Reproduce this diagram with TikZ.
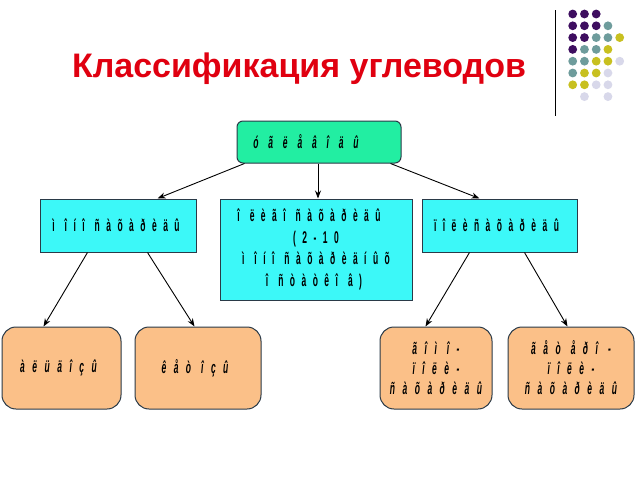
\documentclass[tikz,border=0pt]{standalone}
\usepackage{fontspec}
\setmainfont{Liberation Sans}
\newfontfamily\narA[FakeStretch=0.5,LetterSpace=38]{Liberation Sans}
\newfontfamily\narB[FakeStretch=0.5,LetterSpace=58]{Liberation Sans}
\newfontfamily\narC[FakeStretch=0.5,LetterSpace=44]{Liberation Sans}
\newcommand{\gp}{\hspace{10pt}}
\usetikzlibrary{arrows.meta,calc}
\definecolor{topfill}{HTML}{22EEA2}
\definecolor{midfill}{HTML}{3CF8F8}
\definecolor{botfill}{HTML}{FBC088}
\definecolor{edge}{HTML}{2A3A48}
\definecolor{titlered}{HTML}{E00010}
\definecolor{dpurple}{HTML}{3E0E60}
\definecolor{dteal}{HTML}{6E9C9C}
\definecolor{dyellow}{HTML}{C8C020}
\definecolor{dlav}{HTML}{D8D8EA}
\tikzset{
  boxbase/.style={draw=edge, line width=1pt, align=center, inner sep=0pt},
  topbox/.style={boxbase, fill=topfill, rounded corners=6pt, minimum width=164pt, minimum height=42pt,
    font=\narB\bfseries\itshape\fontsize{17}{21.5}\selectfont},
  midbox/.style={boxbase, fill=midfill, minimum height=53pt,
    font=\narA\bfseries\fontsize{17}{21.5}\selectfont},
  botbox/.style={boxbase, fill=botfill, rounded corners=14pt, minimum height=82pt,
    font=\narC\bfseries\itshape\fontsize{17}{20}\selectfont},
  arr/.style={line width=0.9pt, -{Stealth[length=8pt,width=6pt]}},
  dotp/.style={fill=dpurple},
  dott/.style={fill=dteal},
  doty/.style={fill=dyellow},
  dotl/.style={fill=dlav}
}
\begin{document}
\begin{tikzpicture}[x=1pt,y=-1pt]
\useasboundingbox (0,0) rectangle (638,479);
\fill[white] (0,0) rectangle (638,479);
% title
\node[text=titlered, font=\bfseries\fontsize{34}{38}\selectfont, anchor=base, inner sep=0pt] (title) at (299,77.5) {Классификация углеводов};
% decoration
\coordinate (vtop) at (555,10);
\coordinate (vbot) at (555,116);
\draw[black, line width=1pt] (vtop) -- (vbot);
\foreach \c/\r/\s in {0/0/dotp,1/0/dotp,2/0/dotp,
  0/1/dotp,1/1/dotp,2/1/dotp,3/1/dott,
  0/2/dotp,1/2/dotp,2/2/dott,3/2/dott,4/2/doty,
  0/3/dotp,1/3/dott,2/3/dott,3/3/doty,
  0/4/dott,1/4/dott,2/4/doty,3/4/doty,4/4/dotl,
  0/5/dott,1/5/doty,2/5/doty,3/5/dotl,
  0/6/doty,1/6/doty,2/6/dotl,3/6/dotl,
  1/7/dotl,3/7/dotl}
  \path[\s] ({572.7+11.75*\c},{14+11.8*\r}) circle (4.4pt);
% nodes
\node[topbox] (top) at (319,142) {óãëåâîäû\hspace*{26pt}};
\node[midbox, minimum width=156pt] (lm) at (118,225.5) {ì\gp îíî\gp ñàõàðèäû\hspace*{4pt}};
\node[midbox, minimum width=192pt, minimum height=101pt] (cm) at (316,249.5) {î\gp ëèãî\gp ñàõàðèäû\hspace*{14pt}\\(2-10\hspace*{22pt}\\ì\gp îíî\gp ñàõàðèäíûõ\hspace*{30pt}\\î\gp ñòàòêî\gp â)\hspace*{4pt}};
\node[midbox, minimum width=155pt] (rm) at (499.5,225.5) {ïîëèñàõàðèäû\hspace*{6pt}};
\node[botbox, minimum width=119pt] (b1) at (61.5,368) {àëüäîçû\hspace*{6pt}};
\node[botbox, minimum width=126pt] (b2) at (198,368) {êåò\gp îçû\hspace*{6pt}};
\node[botbox, minimum width=112pt] (b3) at (436,368) {ãîì\gp î-\\ïîëè-\\ñàõàðèäû};
\node[botbox, minimum width=126pt] (b4) at (571,368) {ãåò\gp åðî\gp -\\ïîëè-\\ñàõàðèäû};
% arrows
\draw[arr] ([xshift=8pt]top.south west) -- ([xshift=-39pt]lm.north east);
\draw[arr] ([xshift=-1pt]top.south) -- ([xshift=2pt]cm.north);
\draw[arr] ([xshift=-11pt]top.south east) -- ([xshift=58pt]rm.north west);
\draw[arr] ([xshift=48pt]lm.south west) -- ([xshift=42pt]b1.north west);
\draw[arr] ([xshift=108pt]lm.south west) -- ([xshift=60pt]b2.north west);
\draw[arr] ([xshift=48pt]rm.south west) -- ([xshift=46pt]b3.north west);
\draw[arr] ([xshift=103pt]rm.south west) -- ([xshift=60pt]b4.north west);
\end{tikzpicture}
\end{document}
